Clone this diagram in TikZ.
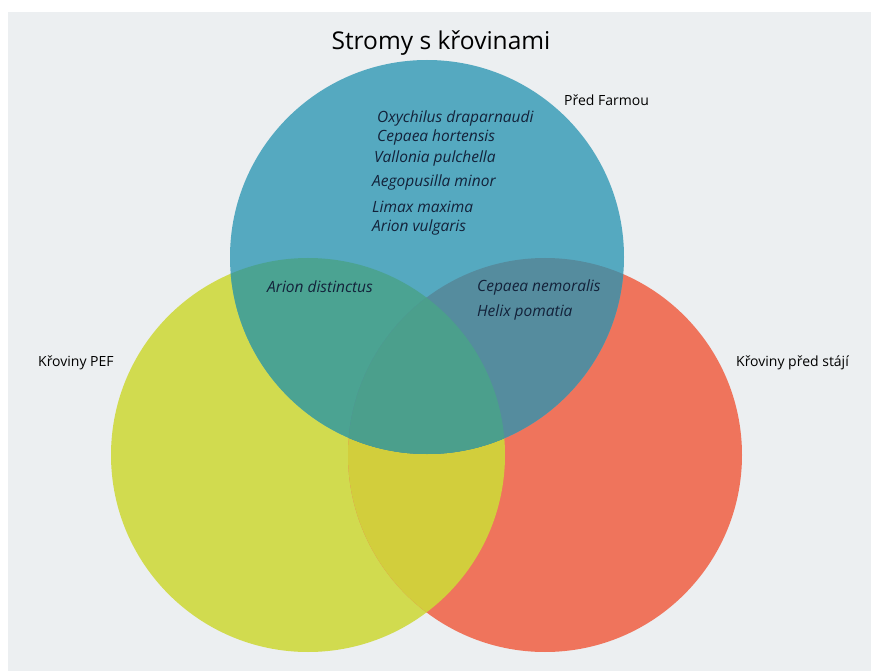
\documentclass[tikz,border=0pt]{standalone}
\usepackage{fontspec}
\setmainfont{Open Sans}
\definecolor{panelgray}{HTML}{ECEFF1}
\definecolor{farmblue}{HTML}{55A9C0}
\definecolor{pefyellow}{HTML}{D1DB4F}
\definecolor{stajred}{HTML}{EF745C}
\definecolor{blueyellow}{HTML}{4BA392}
\definecolor{bluered}{HTML}{558C9E}
\definecolor{yellowred}{HTML}{D2CE3C}
\definecolor{allthree}{HTML}{4B9F8C}
\definecolor{specieshue}{HTML}{13223A}
\newcommand{\farmdisc}{(427,257) circle [radius=197pt]}
\newcommand{\pefdisc}{(308,455) circle [radius=197pt]}
\newcommand{\stajdisc}{(545,455) circle [radius=197pt]}

\begin{document}
\begin{tikzpicture}[x=1pt,y=-1pt,
  species/.style={anchor=west,inner sep=0pt,font=\fontsize{15.5}{18}\selectfont\itshape,text=specieshue},
  setlabel/.style={anchor=west,inner sep=0pt,font=\fontsize{14}{16}\selectfont,text=black}]
\useasboundingbox (0,0) rectangle (871,671);
\fill[white] (0,0) rectangle (871,671);
\fill[panelgray] (8,12) rectangle (871,671);

% the three sets
\fill[pefyellow] \pefdisc;
\fill[stajred] \stajdisc;
\fill[farmblue] \farmdisc;
\begin{scope}
\clip \pefdisc;
\fill[yellowred] \stajdisc;
\fill[blueyellow] \farmdisc;
\clip \stajdisc;
\fill[allthree] \farmdisc;
\end{scope}
\begin{scope}
\clip \stajdisc;
\clip \farmdisc;
\fill[bluered] \stajdisc;
\clip \pefdisc;
\fill[allthree] \farmdisc;
\end{scope}

\node (title) at (441,43) {\fontsize{24.5}{29}\selectfont Stromy s křovinami};
\node[setlabel] (farm) at (564,100) {Před Farmou};
\node[setlabel] (pef) at (38,363) {Křoviny PEF};
\node[setlabel] (staj) at (736,363) {Křoviny před stájí};

% only in front of the farm
\node[species] (oxy) at (377,118) {Oxychilus draparnaudi};
\node[species] (hort) at (377,137) {Cepaea hortensis};
\node[species] (vall) at (374,158) {Vallonia pulchella};
\node[species] (aego) at (372,182) {Aegopusilla minor};
\node[species] (limax) at (372,207) {Limax maxima};
\node[species] (vulg) at (372,227) {Arion vulgaris};

% shared parts
\node[species] (dist) at (267,287) {Arion distinctus};
\node[species] (nemo) at (477,287) {Cepaea nemoralis};
\node[species] (helix) at (477,312) {Helix pomatia};
\end{tikzpicture}
\end{document}
